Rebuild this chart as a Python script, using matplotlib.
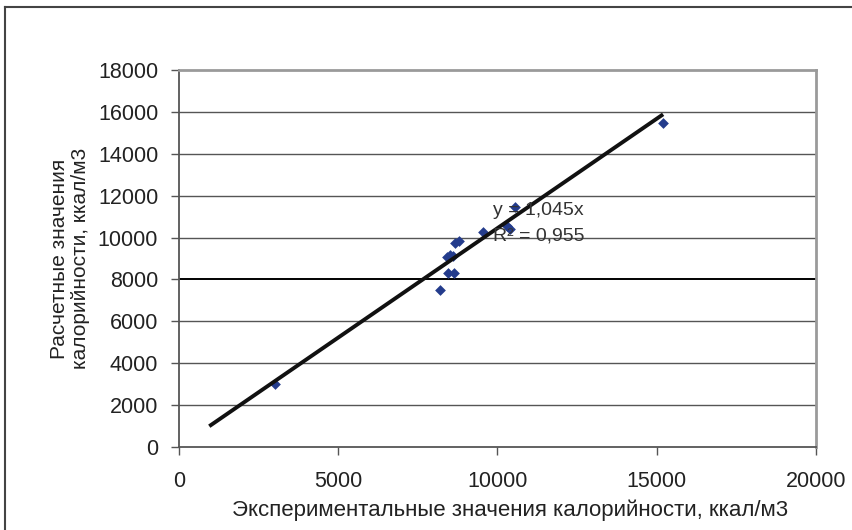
import numpy as np
from matplotlib import pyplot as plt
from matplotlib.lines import Line2D

# experimental vs calculated calorific values
x_exp = [3000, 8200, 8450, 8620, 8400, 8500, 8600, 8650, 8800, 9550, 10300, 10400, 10550, 15200]
y_calc = [3000, 7500, 8300, 8300, 9050, 9150, 9100, 9750, 9850, 10250, 10550, 10400, 11450, 15450]
slope = 1.045
r2 = 0.955
trend_x = [950, 15200]

xticks = [0, 5000, 10000, 15000, 20000]
yticks = list(range(0, 18001, 2000))

plt.rcParams['font.family'] = ['Liberation Sans', 'DejaVu Sans']

fig = plt.figure(figsize=(8.53, 5.30), dpi=100)
ax = fig.add_axes([179 / 853, 1 - 447 / 530, (816 - 179) / 853, (447 - 70) / 530])

# gridlines every 2000, the 8000 one is darker
for yv in yticks[1:]:
    if yv == 8000:
        ax.axhline(yv, color='black', lw=1.4, zorder=1)
    elif yv == 18000:
        continue
    else:
        ax.axhline(yv, color='#555555', lw=1.0, zorder=1)

ax.scatter(x_exp, y_calc, marker='D', s=30, color='#243c8c', zorder=3, linewidths=0)

tx = np.array(trend_x, dtype=float)
ax.plot(tx, slope * tx, color='#111111', lw=2.8, zorder=4, solid_capstyle='butt')

ax.text(9850, 11270, 'y = 1,045x', fontsize=14, color='#333333', va='center', ha='left', zorder=5)
ax.text(9850, 10080, 'R² = 0,955', fontsize=14, color='#333333', va='center', ha='left', zorder=5)

ax.set_xlim(0, 20000)
ax.set_ylim(0, 18000)
ax.set_xticks(xticks)
ax.set_yticks(yticks)
ax.tick_params(axis='both', direction='out', length=6, width=1, color='#555555',
               labelsize=15.5, labelcolor='#222222')
ax.tick_params(axis='x', pad=11)
ax.tick_params(axis='y', pad=9)

for side in ['top', 'right']:
    ax.spines[side].set_color('#9a9a9a')
    ax.spines[side].set_linewidth(2)
for side in ['left', 'bottom']:
    ax.spines[side].set_color('#555555')
    ax.spines[side].set_linewidth(1.3)

ax.set_xlabel('Экспериментальные значения калорийности, ккал/м3', fontsize=16,
              color='#222222')
ax.xaxis.set_label_coords(0.52, -0.14)
ax.set_ylabel('Расчетные значения\nкалорийности, ккал/м3', fontsize=15,
              color='#222222', linespacing=1.15)
ax.yaxis.set_label_coords(-0.14, 0.5)

# outer chart frame (only left and top visible)
fig.add_artist(Line2D([5 / 853, 1], [1 - 7 / 530, 1 - 7 / 530], color='#444444', lw=1.5,
                      transform=fig.transFigure))
fig.add_artist(Line2D([5 / 853, 5 / 853], [0, 1 - 7 / 530], color='#444444', lw=1.5,
                      transform=fig.transFigure))

fig.savefig('out.png', dpi=100)
